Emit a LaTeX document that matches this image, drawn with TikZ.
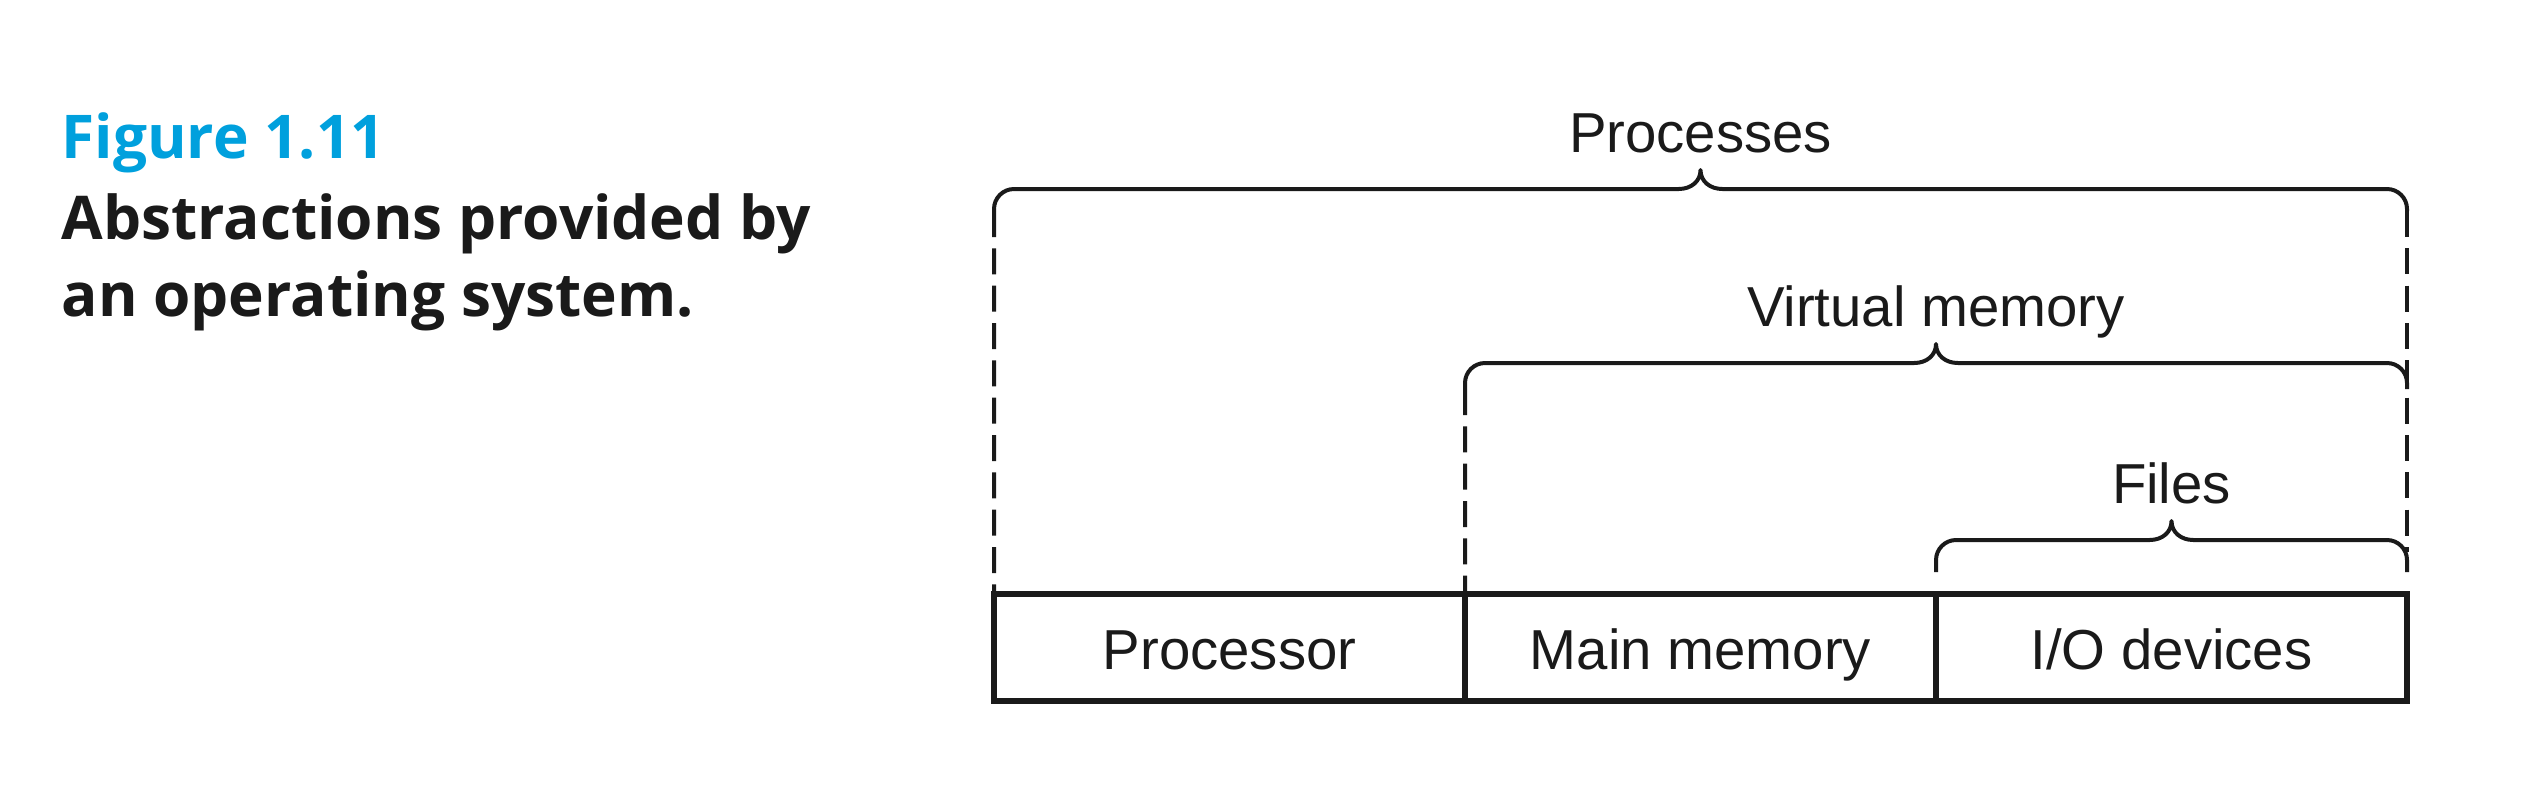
\documentclass[tikz,border=0pt]{standalone}
\usepackage{fontspec}
\setmainfont{Liberation Sans}
\newfontfamily\headfont{Open Sans}
\definecolor{figblue}{RGB}{0,160,221}
\definecolor{ink}{RGB}{26,26,26}
\newcommand\mybrace[4]{% x1, x2, y, arm drop
  \draw[bracestyle] (#1,#3+#4) -- (#1,#3+20)
    .. controls (#1,#3+9) and (#1+9,#3) .. (#1+20,#3)
    -- ({(#1+#2)/2-22},#3)
    .. controls ({(#1+#2)/2-9},#3) and ({(#1+#2)/2},#3-8) .. ({(#1+#2)/2},#3-19)
    .. controls ({(#1+#2)/2},#3-8) and ({(#1+#2)/2+9},#3) .. ({(#1+#2)/2+22},#3)
    -- (#2-20,#3)
    .. controls (#2-9,#3) and (#2,#3+9) .. (#2,#3+20) -- (#2,#3+#4);
}
\begin{document}
\begin{tikzpicture}[x=0.3pt,y=-0.3pt,
  unit/.style={draw=ink, line width=1.65pt, minimum width=141.3pt, minimum height=32.1pt,
    inner sep=0pt, outer sep=0pt, text height=13.4pt, text depth=0pt,
    font=\fontsize{16.9}{20}\selectfont, text=ink},
  lbl/.style={anchor=base, inner sep=0pt, font=\fontsize{16.9}{20}\selectfont, text=ink},
  bracestyle/.style={draw=ink, line width=1.2pt, line join=round},
  dashline/.style={draw=ink, line width=1.2pt, dash pattern=on 7.8pt off 3.4pt},
  head/.style={anchor=base west, inner sep=0pt, font=\headfont\bfseries\fontsize{18.1}{24}\selectfont}]
\useasboundingbox (0,0) rectangle (2530,790);

% heading
\node[head, text=figblue] (fig) at (61,158) {Figure 1.11};
\node[head, text=ink] (t1) at (61,239) {Abstractions provided by};
\node[head, text=ink] (t2) at (61,316) {an operating system.};

% boxes
\node[unit] (proc) at (1229.5,647.5) {Processor};
\node[unit] (mem) at (1700.5,647.5) {Main memory};
\node[unit] (io) at (2171.5,647.5) {I/O devices};

% braces
\mybrace{994}{2407}{189}{22}
\mybrace{1465}{2407}{363}{26}
\mybrace{1936}{2407}{540}{32}

\coordinate (pl) at (994,211);
\coordinate (pr) at (2407,211);
\coordinate (vl) at (1465,389);
\coordinate (fr) at (2407,552);

\draw[dashline] (pl) -- (proc.north west);
\draw[dashline] (vl) -- (mem.north west);
\draw[dashline] (pr) -- (fr);

% labels
\node[lbl] (lp) at (1700.5,152) {Processes};
\node[lbl] (lv) at (1936,326) {Virtual memory};
\node[lbl] (lf) at (2171.5,503) {Files};
\end{tikzpicture}
\end{document}
